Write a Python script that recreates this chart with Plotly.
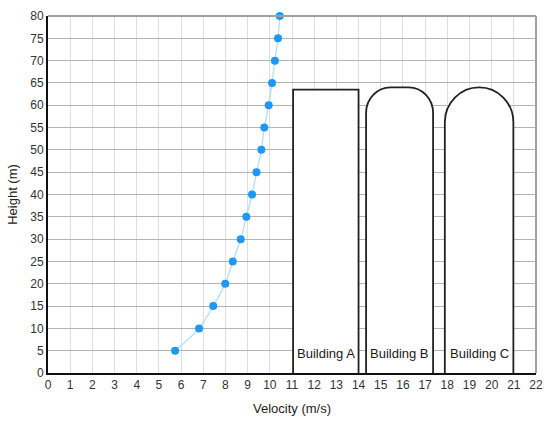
import plotly.graph_objs as go

# wind profile
heights = [5, 10, 15, 20, 25, 30, 35, 40, 45, 50, 55, 60, 65, 70, 75, 80]
velocity = [5.73, 6.81, 7.45, 7.99, 8.33, 8.69, 8.94, 9.2, 9.4, 9.62, 9.75, 9.95, 10.1, 10.23, 10.37, 10.45]

# buildings
bld_names = ["Building A", "Building B", "Building C"]
bld_left = [11.05, 14.34, 17.89]
bld_right = [14.0, 17.36, 20.98]
bld_height = [63.5, 64.0, 64.0]
bld_rx = [0.0, 1.1, 1.545]   # top corner radius (x units)
bld_ry = [0.0, 5.7, 7.8]     # top corner radius (y units)

x_ticks = list(range(0, 23))
y_ticks = list(range(0, 81, 5))

K = 0.5523


def building_path(x0, x1, h, rx, ry):
    if rx == 0:
        return f"M {x0},0 L {x0},{h} L {x1},{h} L {x1},0"
    p = f"M {x0},0 L {x0},{h - ry} "
    p += f"C {x0},{h - ry + K * ry} {x0 + rx - K * rx},{h} {x0 + rx},{h} "
    p += f"L {x1 - rx},{h} "
    p += f"C {x1 - rx + K * rx},{h} {x1},{h - ry + K * ry} {x1},{h - ry} "
    p += f"L {x1},0"
    return p


def main():
    fig = go.Figure()

    fig.add_trace(go.Scatter(
        x=velocity, y=heights, mode="lines+markers",
        line=dict(color="#a9dcff", width=1.2, shape="spline"),
        marker=dict(color="#1e98f5", size=8),
        cliponaxis=False, showlegend=False))

    shapes = []
    for i in range(len(bld_names)):
        shapes.append(dict(
            type="path", xref="x", yref="y", layer="above",
            path=building_path(bld_left[i], bld_right[i], bld_height[i], bld_rx[i], bld_ry[i]),
            fillcolor="white", line=dict(color="#222222", width=1.8)))
    # top and right frame
    shapes.append(dict(type="line", xref="paper", yref="paper", x0=0, x1=1, y0=1, y1=1,
                       line=dict(color="#a0a0a0", width=2)))
    shapes.append(dict(type="line", xref="paper", yref="paper", x0=1, x1=1, y0=0, y1=1,
                       line=dict(color="#a0a0a0", width=2)))

    annotations = []
    for i in range(len(bld_names)):
        annotations.append(dict(
            x=(bld_left[i] + bld_right[i]) / 2, y=4.3, xref="x", yref="y",
            text=bld_names[i], showarrow=False,
            font=dict(size=13, color="#1a1a1a")))

    fig.update_layout(
        width=550, height=426,
        margin=dict(l=48, r=14, t=16, b=53),
        plot_bgcolor="white", paper_bgcolor="white",
        font=dict(family="Liberation Sans, Arial, sans-serif", size=12, color="#333333"),
        shapes=shapes, annotations=annotations,
        xaxis=dict(range=[0, 22], tickvals=x_ticks, showgrid=True, gridcolor="#dedede",
                   gridwidth=1, showline=True, linecolor="#111111", linewidth=2,
                   ticks="", zeroline=False, fixedrange=True, automargin=False,
                   title=dict(text="Velocity (m/s)", standoff=12, font=dict(size=13, color="#222222"))),
        yaxis=dict(range=[0, 80], tickvals=y_ticks, showgrid=True, gridcolor="#b4b4b4",
                   gridwidth=1, showline=True, linecolor="#111111", linewidth=2,
                   ticks="", zeroline=False, fixedrange=True, automargin=False,
                   title=dict(text="Height (m)", standoff=10, font=dict(size=13, color="#222222"))),
    )

    fig.write_html("out.html", config=dict(displayModeBar=False),
                   post_script="document.body.style.margin='0';")


if __name__ == '__main__':
    main()
